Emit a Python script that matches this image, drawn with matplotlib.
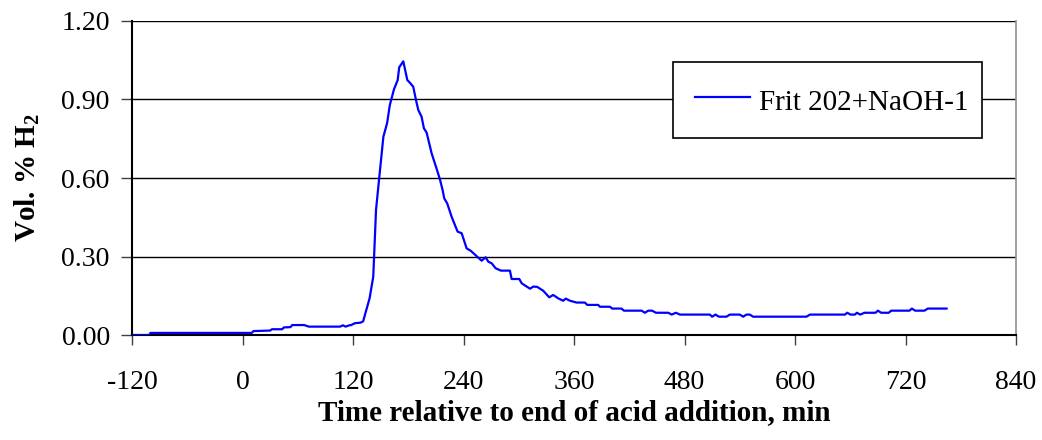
import matplotlib
matplotlib.use("Agg")
import matplotlib.pyplot as plt

plt.rcParams['font.family'] = ['Liberation Serif', 'DejaVu Serif']
plt.rcParams['mathtext.fontset'] = 'custom'
plt.rcParams['mathtext.rm'] = 'Liberation Serif'
plt.rcParams['mathtext.bf'] = 'Liberation Serif:bold'
plt.rcParams['axes.unicode_minus'] = False

# ---- data ----
time_min = [-120, -101, -100, 10, 12, 30, 32, 43, 45, 52, 54, 67, 72, 106, 109, 112, 116, 118,
            122, 128, 131, 134, 138, 142, 145, 148.6, 153, 157, 160, 164.5, 168.5, 170.2, 174.6,
            179, 181.8, 185.4, 188.4, 190.9, 194.5, 197, 200, 205.4, 210.1, 214.4, 217.3, 219.1,
            222.3, 227.1, 233.6, 238, 243.4, 247.8, 259.7, 264, 267, 270.6, 274.9, 280.6, 290.4,
            292.3, 300.6, 303.1, 307.8, 312.2, 315.8, 320, 326.6, 333.1, 337.4, 342.9, 348.3,
            351, 355.6, 362.8, 371.8, 374.4, 386.3, 388.1, 399, 401.5, 411.6, 414.2, 433.4, 437,
            440.6, 444.8, 449, 462.4, 466, 470.7, 475, 507.6, 510, 513.7, 517.3, 525.6, 529.2,
            540, 543.7, 547.3, 550.9, 554.5, 612.5, 616.2, 654.2, 656.7, 660.3, 665, 667.2, 670.8,
            675.5, 687.5, 690, 693.6, 701.8, 704.4, 724.3, 726.9, 730.5, 740.6, 744.2, 764.6]
vol_h2 = [0.000, 0.000, 0.008, 0.008, 0.015, 0.017, 0.022, 0.022, 0.029, 0.030, 0.038, 0.038, 0.032,
          0.032, 0.037, 0.032, 0.037, 0.038, 0.045, 0.047, 0.052, 0.090, 0.140, 0.223, 0.478,
          0.605, 0.758, 0.809, 0.879, 0.939, 0.974, 1.023, 1.046, 0.974, 0.964, 0.949, 0.898,
          0.860, 0.834, 0.790, 0.773, 0.694, 0.643, 0.595, 0.554, 0.522, 0.503, 0.452, 0.395,
          0.389, 0.331, 0.322, 0.284, 0.297, 0.280, 0.274, 0.255, 0.246, 0.246, 0.214, 0.214,
          0.198, 0.187, 0.177, 0.185, 0.184, 0.169, 0.144, 0.153, 0.140, 0.131, 0.139, 0.131,
          0.124, 0.124, 0.115, 0.115, 0.108, 0.108, 0.101, 0.101, 0.093, 0.093, 0.085, 0.093,
          0.093, 0.085, 0.085, 0.078, 0.085, 0.078, 0.078, 0.070, 0.078, 0.070, 0.070, 0.078,
          0.078, 0.070, 0.078, 0.078, 0.070, 0.070, 0.078, 0.078, 0.085, 0.078, 0.078, 0.085,
          0.078, 0.085, 0.085, 0.093, 0.085, 0.085, 0.093, 0.093, 0.101, 0.093, 0.093, 0.101,
          0.101]
series_label = "Frit 202+NaOH-1"
x_ticks = [-120, 0, 120, 240, 360, 480, 600, 720, 840]
y_ticks = [0.0, 0.3, 0.6, 0.9, 1.2]

W, H = 1042, 440
fig = plt.figure(figsize=(W / 100, H / 100), dpi=100)
ax = fig.add_axes([132 / W, 1 - 335 / H, 884 / W, 314 / H])

ax.plot(time_min, vol_h2, color='#0000FF', lw=1.6, label=series_label, zorder=3)

ax.set_xlim(-120, 840)
ax.set_ylim(0, 1.2)
ax.set_xticks(x_ticks)
ax.set_xticklabels([str(v) for v in x_ticks])
ax.set_yticks(y_ticks)
ax.set_yticklabels([f"{v:.2f}" for v in y_ticks])
ax.tick_params(axis='both', direction='out', labelsize=20, width=1, color='#404040')
ax.tick_params(axis='x', length=7, pad=18)
ax.tick_params(axis='y', length=8, pad=8)

ax.yaxis.grid(True, color='black', lw=1)
ax.set_axisbelow(True)

ax.spines['left'].set_color('black')
ax.spines['left'].set_linewidth(1.5)
ax.spines['bottom'].set_color('black')
ax.spines['bottom'].set_linewidth(1.5)
ax.spines['right'].set_color('#909090')
ax.spines['right'].set_linewidth(1.2)
ax.spines['top'].set_visible(False)

ax.set_xlabel("Time relative to end of acid addition, min", fontsize=21, fontweight='bold', labelpad=3)
ax.set_ylabel(r"Vol. % H$_\mathbf{2}$", fontsize=21, fontweight='bold', labelpad=14)

x0 = (673 - 132) / 884
x1 = (982 - 132) / 884
y0 = (335 - 139) / 314
y1 = (335 - 61) / 314
leg = ax.legend(loc='center left', bbox_to_anchor=(x0, y0, x1 - x0, y1 - y0), mode='expand',
                fontsize=21, frameon=True, fancybox=False, framealpha=1, edgecolor='black',
                borderpad=0.75, handlelength=1.9, handletextpad=0.3, handleheight=1.35,
                borderaxespad=0)
leg.get_frame().set_linewidth(1.2)

fig.savefig("out.png", dpi=100)
